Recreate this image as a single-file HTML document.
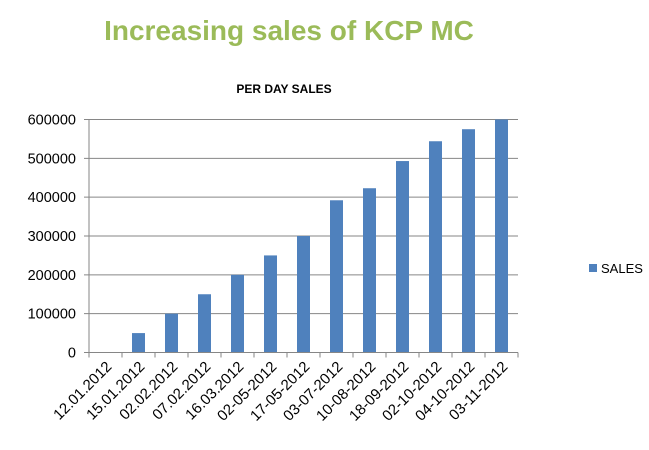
<!DOCTYPE html>
<html><head><meta charset="utf-8"><style>
body{margin:0;background:#fff;width:649px;height:445px;overflow:hidden;font-family:"Liberation Sans",sans-serif}
</style></head><body>
<svg width="649" height="445" id="c">
<text x="289" y="40" text-anchor="middle" font-size="28" font-weight="bold" fill="#9bbb59">Increasing sales of KCP MC</text>
<text x="284" y="93" text-anchor="middle" font-size="12" font-weight="bold" fill="#000">PER DAY SALES</text>
<g id="grid"></g><g id="bars"></g><g id="axes"></g>
<rect x="589" y="264" width="8" height="8" fill="#4f81bd"/>
<text x="601" y="273" font-size="13" fill="#000">SALES</text>
</svg>
<script>
const categories=["12.01.2012","15.01.2012","02.02.2012","07.02.2012","16.03.2012","02-05-2012","17-05-2012","03-07-2012","10-08-2012","18-09-2012","02-10-2012","04-10-2012","03-11-2012"];
const sales=[0,50000,100000,150000,200000,250000,300000,392000,423000,493000,544000,575000,600000];
const yTicks=[0,100000,200000,300000,400000,500000,600000];
const NS="http://www.w3.org/2000/svg";
const x0=89,x1=518,y0=352.5,y1=119.5,yMax=600000;
const band=(x1-x0)/categories.length;
const y=v=>y0-(v/yMax)*(y0-y1);
function mk(t,a,p){const e=document.createElementNS(NS,t);for(const k in a)e.setAttribute(k,a[k]);p.appendChild(e);return e;}
const grid=document.getElementById('grid'),bars=document.getElementById('bars'),axes=document.getElementById('axes');
yTicks.forEach(v=>{
 const l=mk('line',{x1:x0-5,x2:x1,y1:y(v),y2:y(v),stroke:'#868686','stroke-width':1},grid);
 
 
 const t=mk('text',{x:76,y:y(v)+5,'text-anchor':'end','font-size':14.5,fill:'#000'},axes);
 t.textContent=v;
 
 
});
mk('line',{x1:x0,x2:x0,y1:y1,y2:y0,stroke:'#868686'},axes);
mk('line',{x1:x0,x2:x1,y1:y0,y2:y0,stroke:'#868686'},axes);
for(let i=0;i<=categories.length;i++){mk('line',{x1:x0+i*band,x2:x0+i*band,y1:y0,y2:y0+5,stroke:'#868686'},axes);}
categories.forEach((c,i)=>{
 const cx=x0+band*(i+0.5),bw=13;
 const r=mk('rect',{x:cx-bw/2,y:y(sales[i]),width:bw,height:y0-y(sales[i]),fill:'#4f81bd'},bars);
 
 
 const t=mk('text',{x:cx+7,y:y0+15,'text-anchor':'end','font-size':15,fill:'#000',transform:`rotate(-45 ${cx+7} ${y0+15})`},axes);
 t.textContent=c;
 
 
});
</script>
</body></html>
